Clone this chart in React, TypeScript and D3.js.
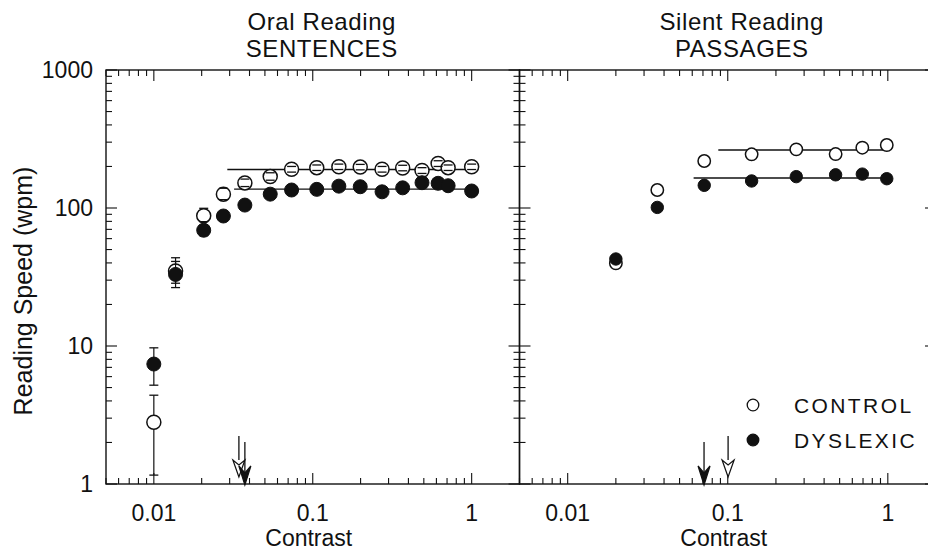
import React, { useEffect, useRef } from 'react';
import * as d3 from 'd3';

// Oral reading, sentences (left panel)
const leftContrast = [0.01, 0.0137, 0.0206, 0.0274, 0.0374, 0.054, 0.0736, 0.106, 0.146, 0.199, 0.273, 0.368, 0.487, 0.615, 0.711, 1.0];
const leftControl = [2.8, 35, 88, 126, 152, 169, 191, 196, 199, 198, 191, 195, 187, 210, 196, 199];
const leftControlLo = [1.16, 28.5, 79.6, 115, 143, 159, 182, 187, 190, 189, 182, 186, 178, 200, 187, 190];
const leftControlHi = [4.4, 43.6, 99.5, 139, 162, 180, 200, 205, 208, 207, 200, 204, 196, 220, 205, 208];
const leftDyslexic = [7.4, 33, 69, 87.5, 105, 126, 135, 136.5, 144, 142.6, 131, 140, 152.5, 151, 145, 132.8];
const leftDyslexicLo = [5.2, 26.5, 63, 83, 100, 120, 129, 130, 138, 136, 125, 134, 146, 145, 139, 127];
const leftDyslexicHi = [9.7, 41, 75, 92, 110, 132, 141, 143, 150, 149, 137, 146, 159, 157, 151, 139];

// Silent reading, passages (right panel)
const rightContrast = [0.02, 0.0363, 0.0713, 0.141, 0.268, 0.472, 0.693, 0.985];
const rightControl = [39.7, 135, 219, 245, 266, 246, 273.5, 286];
const rightDyslexic = [42.7, 101, 146, 157, 168.7, 174, 176, 163];

// plateau fits: [from contrast, to contrast, wpm]
const leftControlFit = [0.029, 1.05, 190];
const leftDyslexicFit = [0.032, 1.05, 137];
const rightControlFit = [0.0873, 1.0, 263];
const rightDyslexicFit = [0.0612, 1.02, 165];

// critical contrast arrows
const leftArrows = [{ c: 0.0343, filled: false }, { c: 0.0374, filled: true }];
const rightArrows = [{ c: 0.0711, filled: true }, { c: 0.1005, filled: false }];

const xTickLabels = ['0.01', '0.1', '1'];
const yTickLabels = ['1', '10', '100', '1000'];

const FONT = '"Liberation Sans", Arial, Helvetica, sans-serif';
const INK = '#111';

const App = () => {
  const svgRef = useRef<SVGSVGElement>(null);

  useEffect(() => {
    const svg = d3.select(svgRef.current);
    svg.selectAll('*').remove();

    const top = 70;
    const bottom = 484;
    const y = d3.scaleLog().domain([1, 1000]).range([bottom, top]);

    const panels = [
      {
        range: [106, 519.5], title: ['Oral Reading', 'SENTENCES'], titleShift: 9,
        contrast: leftContrast, control: leftControl, dyslexic: leftDyslexic,
        cLo: leftControlLo, cHi: leftControlHi, dLo: leftDyslexicLo, dHi: leftDyslexicHi,
        fits: [leftControlFit, leftDyslexicFit], arrows: leftArrows, r: 7,
      },
      {
        range: [519.5, 936], title: ['Silent Reading', 'PASSAGES'], titleShift: 14,
        contrast: rightContrast, control: rightControl, dyslexic: rightDyslexic,
        cLo: null, cHi: null, dLo: null, dHi: null,
        fits: [rightControlFit, rightDyslexicFit], arrows: rightArrows, r: 6.2,
      },
    ];

    const xMajor = [0.01, 0.1, 1];
    const xMinor: number[] = [];
    [0.001, 0.01, 0.1].forEach((d) => {
      for (let k = 2; k <= 9; k++) {
        const v = +(k * d).toPrecision(3);
        if (v >= 0.005 && v < 2) xMinor.push(v);
      }
    });
    const yMajor = [1, 10, 100, 1000];
    const yMinor: number[] = [];
    [1, 10, 100].forEach((d) => {
      for (let k = 2; k <= 9; k++) yMinor.push(k * d);
    });

    panels.forEach((p, pi) => {
      const x = d3.scaleLog().domain([0.005, 2]).range(p.range);
      const g = svg.append('g');
      const [x0, x1] = p.range;

      // frame
      g.append('rect')
        .attr('x', x0).attr('y', top)
        .attr('width', x1 - x0).attr('height', bottom - top)
        .attr('fill', 'none').attr('stroke', INK).attr('stroke-width', 1.4);

      // x ticks (bottom up, top down)
      const xt = [...xMajor.map((v) => ({ v, len: 11 })), ...xMinor.map((v) => ({ v, len: 6 }))];
      xt.forEach((t) => {
        const px = x(t.v);
        g.append('line').attr('x1', px).attr('x2', px).attr('y1', bottom).attr('y2', bottom - t.len)
          .attr('stroke', INK).attr('stroke-width', 1.1);
        g.append('line').attr('x1', px).attr('x2', px).attr('y1', top).attr('y2', top + t.len)
          .attr('stroke', INK).attr('stroke-width', 1.1);
      });

      // y ticks (left inward, right inward)
      const yt = [...yMajor.map((v) => ({ v, len: 11 })), ...yMinor.map((v) => ({ v, len: 6 }))];
      yt.forEach((t) => {
        const py = y(t.v);
        g.append('line').attr('x1', x0).attr('x2', x0 + t.len).attr('y1', py).attr('y2', py)
          .attr('stroke', INK).attr('stroke-width', 1.1);
        g.append('line').attr('x1', x1).attr('x2', x1 - t.len).attr('y1', py).attr('y2', py)
          .attr('stroke', INK).attr('stroke-width', 1.1);
      });

      // x tick labels
      xMajor.forEach((v, i) => {
        g.append('text').attr('x', x(v)).attr('y', 521)
          .attr('text-anchor', 'middle').attr('font-family', FONT).attr('font-size', 23)
          .attr('fill', INK).text(xTickLabels[i]);
      });
      g.append('text').attr('x', x(0.1) - 4).attr('y', 546)
        .attr('text-anchor', 'middle').attr('font-family', FONT).attr('font-size', 23)
        .attr('fill', INK).text('Contrast');

      // titles
      p.title.forEach((t, i) => {
        g.append('text').attr('x', x(0.1) + p.titleShift).attr('y', 30 + i * 26.5)
          .attr('text-anchor', 'middle').attr('font-family', FONT).attr('font-size', 24)
          .attr('letter-spacing', 0.6)
          .attr('fill', INK).text(t);
      });

      // y tick labels (left panel only)
      if (pi === 0) {
        yMajor.forEach((v, i) => {
          g.append('text').attr('x', 93).attr('y', y(v))
            .attr('dy', '0.36em')
            .attr('text-anchor', 'end').attr('font-family', FONT).attr('font-size', 23)
            .attr('fill', INK).text(yTickLabels[i]);
        });
      }

      // fitted plateau lines
      p.fits.forEach((f) => {
        g.append('line').attr('x1', x(f[0])).attr('x2', x(f[1]))
          .attr('y1', y(f[2])).attr('y2', y(f[2]))
          .attr('stroke', INK).attr('stroke-width', 1.4);
      });

      const errBar = (c: number, lo: number, hi: number) => {
        const px = x(c);
        g.append('line').attr('x1', px).attr('x2', px).attr('y1', y(lo)).attr('y2', y(hi))
          .attr('stroke', INK).attr('stroke-width', 1.2);
      };
      const caps = (c: number, lo: number, hi: number) => {
        const px = x(c);
        [lo, hi].forEach((v) => {
          g.append('line').attr('x1', px - 4.5).attr('x2', px + 4.5).attr('y1', y(v)).attr('y2', y(v))
            .attr('stroke', INK).attr('stroke-width', 1.3);
        });
      };

      // control error bars and open circles
      if (p.cLo && p.cHi) p.contrast.forEach((c, i) => errBar(c, p.cLo![i], p.cHi![i]));
      p.contrast.forEach((c, i) => {
        g.append('circle').attr('cx', x(c)).attr('cy', y(p.control[i])).attr('r', p.r)
          .attr('fill', '#fff').attr('stroke', INK).attr('stroke-width', 1.5);
      });
      if (p.cLo && p.cHi) p.contrast.forEach((c, i) => caps(c, p.cLo![i], p.cHi![i]));

      // dyslexic error bars and filled circles
      if (p.dLo && p.dHi) p.contrast.forEach((c, i) => { errBar(c, p.dLo![i], p.dHi![i]); caps(c, p.dLo![i], p.dHi![i]); });
      p.contrast.forEach((c, i) => {
        g.append('circle').attr('cx', x(c)).attr('cy', y(p.dyslexic[i])).attr('r', p.r)
          .attr('fill', INK).attr('stroke', INK).attr('stroke-width', 1);
      });

      // arrows
      p.arrows.forEach((a) => {
        const px = x(a.c);
        const tip = a.filled ? y(1) + 1 : y(1) - 7;
        const len = a.filled ? 43 : 41;
        const head = a.filled ? 19 : 17;
        const hw = 6;
        g.append('line').attr('x1', px).attr('x2', px).attr('y1', tip - len).attr('y2', tip - (a.filled ? 4 : head))
          .attr('stroke', INK).attr('stroke-width', 1.3);
        const path = a.filled
          ? `M${px},${tip} L${px - hw},${tip - head} L${px},${tip - head + 7} L${px + hw},${tip - head} Z`
          : `M${px},${tip} L${px - hw},${tip - head} L${px},${tip - head + 5} L${px + hw},${tip - head} Z`;
        g.append('path').attr('d', path)
          .attr('fill', a.filled ? INK : '#fff').attr('stroke', INK).attr('stroke-width', 1.2)
          .attr('stroke-linejoin', 'miter');
      });

      // legend (right panel)
      if (pi === 1) {
        const legend = [
          { label: 'CONTROL', filled: false },
          { label: 'DYSLEXIC', filled: true },
        ];
        legend.forEach((l, i) => {
          const ly = 405 + i * 35;
          g.append('circle').attr('cx', 753).attr('cy', ly).attr('r', 5.8)
            .attr('fill', l.filled ? INK : '#fff').attr('stroke', INK).attr('stroke-width', 1.3);
          g.append('text').attr('x', 794).attr('y', ly + 7.5)
            .attr('font-family', FONT).attr('font-size', 21).attr('letter-spacing', 2.4)
            .attr('fill', INK).text(l.label);
        });
      }
    });

    // y axis title
    svg.append('text')
      .attr('transform', 'translate(32,291) rotate(-90)')
      .attr('text-anchor', 'middle').attr('font-family', FONT).attr('font-size', 25)
      .attr('fill', INK).text('Reading Speed (wpm)');
  }, []);

  return (
    <svg
      ref={svgRef}
      width={928}
      height={552}
      style={{ position: 'absolute', left: 0, top: 0, background: '#fff' }}
    />
  );
};

export default App;
